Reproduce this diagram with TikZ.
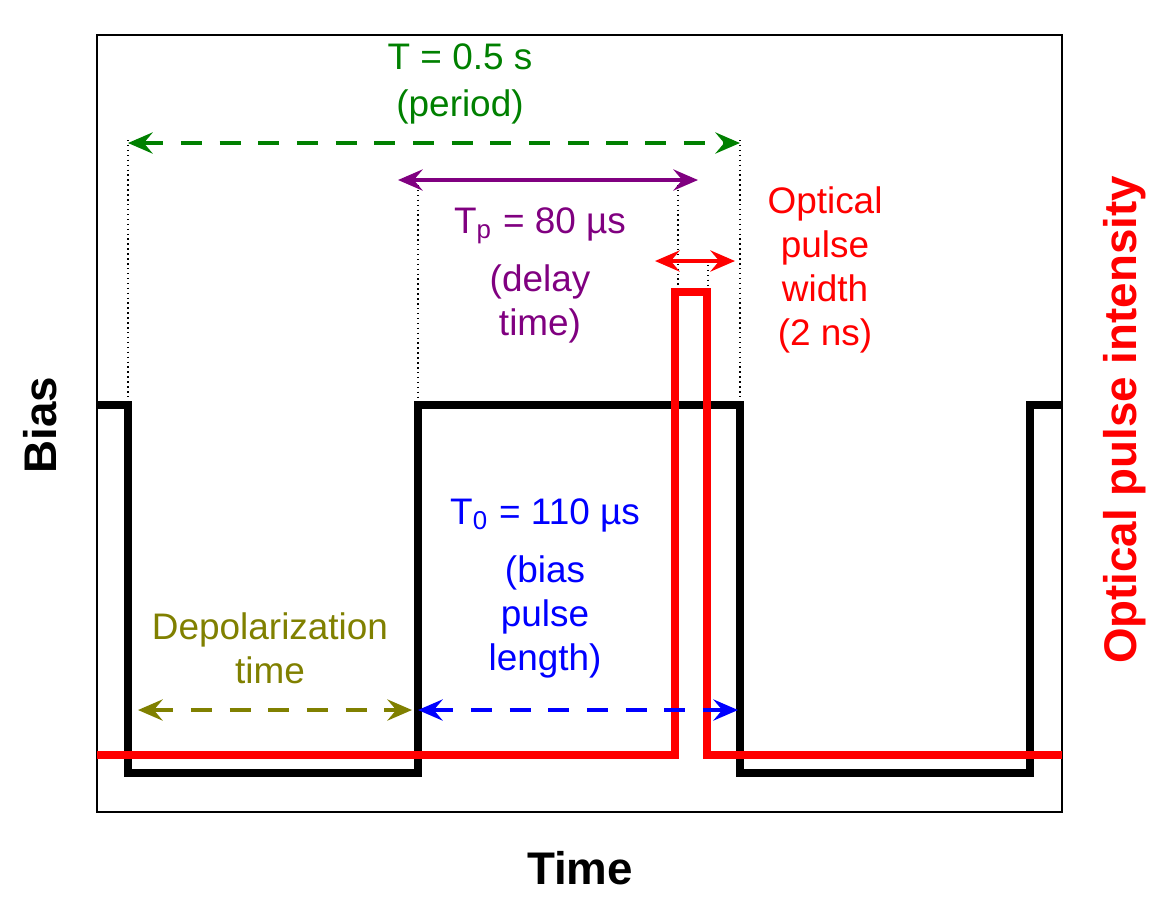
\documentclass[tikz,border=0pt]{standalone}
\usepackage{fontspec}
\setmainfont{Liberation Sans}
\usetikzlibrary{arrows.meta}
\definecolor{olivetxt}{RGB}{128,128,0}
\definecolor{purp}{RGB}{128,0,128}
\definecolor{grn}{RGB}{0,128,0}
\begin{document}
\begin{tikzpicture}[x=0.01cm,y=-0.01cm,
    lbl/.style={font=\fontsize{10.5}{12.5}\selectfont},
    dim/.style={<->,>={Stealth[length=7pt,width=6pt,inset=2.5pt]},line width=1.3pt},
    dsh/.style={dash pattern=on 6pt off 5pt},
    guide/.style={black,densely dotted,thin}]
        \useasboundingbox (0,0) rectangle (1168,908);
        
        \draw[black, thin] (97,35) rectangle (1062,812);
        
        % guides
        \draw[guide] (128,140) -- (128,405);
        \draw[guide] (418,180) -- (418,405);
        \draw[guide] (740,140) -- (740,405);
        \draw[guide] (678,180) -- (678,292);
        \draw[guide] (708,260) -- (708,292);
        
        % bias and optical pulse
        \draw[black, line width=2.2pt] (97,405) -- (128,405) -- (128,773) -- (418,773) -- (418,405) -- (740,405) -- (740,773) -- (1030,773) -- (1030,405) -- (1062,405);
        \draw[red, line width=2.2pt] (97,755) -- (675,755) -- (675,292) -- (707,292) -- (707,755) -- (1062,755);
        
        % dimensions
        \coordinate (ga) at (128,143); \coordinate (gb) at (740,143);
        \draw[dim, grn, dsh] (ga) -- (gb);
        \coordinate (pa) at (398,180); \coordinate (pb) at (698,180);
        \draw[dim, purp] (pa) -- (pb);
        \coordinate (ra) at (655,261); \coordinate (rb) at (735,261);
        \draw[dim, red] (ra) -- (rb);
        \coordinate (oa) at (138,710); \coordinate (ob) at (412,710);
        \draw[dim, olivetxt, dsh] (oa) -- (ob);
        \coordinate (ba) at (418,710); \coordinate (bb) at (738,710);
        \draw[dim, blue, dsh] (ba) -- (bb);
        
        % labels
        \node[lbl, grn, align=center] (period) at (460,84) {T = 0.5 s\\[1pt](period)};
        \node[lbl, purp, align=center] (delay) at (540,275) {T\textsubscript{p} = 80 µs\\[4pt](delay\\time)};
        \node[lbl, red, align=center] (width) at (825,270) {Optical\\pulse\\width\\(2 ns)};
        \node[lbl, blue, align=center] (blen) at (545,588) {T\textsubscript{0} = 110 µs\\[4pt](bias\\pulse\\length)};
        \node[lbl, olivetxt, align=center] (depol) at (270,648) {Depolarization\\time};
        
        \node[font=\fontsize{13}{15}\selectfont\bfseries, rotate=90] (bias) at (40,425) {Bias};
        \node[font=\fontsize{13}{15}\selectfont\bfseries] (time) at (580,868) {Time};
        \node[font=\fontsize{13}{15}\selectfont\bfseries, red, rotate=90] (opt) at (1125,420) {Optical pulse intensity};
        
        \end{tikzpicture}
\end{document}
